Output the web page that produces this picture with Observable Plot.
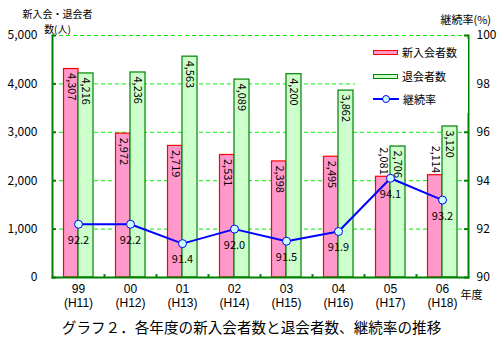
<!DOCTYPE html>
<html><head><meta charset="utf-8">
<script src="https://cdn.jsdelivr.net/npm/d3@7"></script>
<script src="https://cdn.jsdelivr.net/npm/@observablehq/plot@0.6"></script>
<style>
body{margin:0;background:#fff;font-family:"Noto Sans CJK JP",sans-serif;}
#wrap{position:relative;width:497px;height:350px;overflow:hidden;background:#fff}
#legend{position:absolute;left:355px;top:39px;width:113px;height:74px;background:#fff;font-size:11px;color:#000}
#legend .item{position:absolute;left:18px;height:14px;display:flex;align-items:center}
#legend .sw{width:25px;height:5px;box-sizing:border-box;margin-right:4px}
#legend .ln{position:relative;width:26px;height:2px;background:#0000ff;margin-right:4px}
#legend .ln span{position:absolute;left:9px;top:-3px;border:1px solid #0000ff;border-radius:50%;background:#ccffff;box-sizing:border-box;width:8px;height:8px}
</style></head>
<body><div id="wrap"></div>
<script>
const years = ["99","00","01","02","03","04","05","06"];
const eras = ["(H11)","(H12)","(H13)","(H14)","(H15)","(H16)","(H17)","(H18)"];
const newMembers = [4307,2972,2719,2531,2398,2495,2081,2114];
const leftMembers = [4216,4236,4563,4089,4200,3862,2706,3120];
const rates = [92.2,92.2,91.4,92.0,91.5,91.9,94.1,93.2];
const leftTicks = [0,1000,2000,3000,4000,5000];
const rightTicks = [90,92,94,96,98,100];
const seriesNames = ["新入会者数","退会者数","継続率"];
const leftTitle1 = "新入会・退会者", leftTitle2 = "数(人)";
const rightTitle = "継続率(%)";
const xUnit = "年度";
const caption = "グラフ２．各年度の新入会者数と退会者数、継続率の推移";

const toLeft = r => (r - 90) * 500;   // map right-axis % onto left scale
const fmt = d3.format(",");
const rows = years.map((y,i)=>({year:y, era:eras[i], nw:newMembers[i], lv:leftMembers[i], rate:rates[i]}));
// label above pink bar when the rate line would cross it
const outside = d => { const p = toLeft(d.rate); return p <= d.nw && p >= d.nw - 700; };

const GREEN = "#008000", FONT = '"Noto Sans CJK JP", sans-serif', LAT = '"Liberation Sans", sans-serif';

const chart = Plot.plot({
  width: 497, height: 350,
  marginLeft: 52, marginRight: 29, marginTop: 35, marginBottom: 73,
  style: {fontFamily: FONT, fontSize: "12px", color: "#000", background: "transparent"},
  x: {domain: years, padding: 0, label: null, axis: null},
  y: {domain: [0, 5000], label: null, axis: null},
  marks: [
    Plot.ruleY(leftTicks.slice(1), {stroke: "#00ee00", strokeDasharray: "4,3", strokeWidth: 1}),
    Plot.barY(rows, {x: "year", y: "nw", fill: "#ff99cc", stroke: "#ff0000", strokeWidth: 1.2, insetLeft: 11.5, insetRight: 26}),
    Plot.barY(rows, {x: "year", y: "lv", fill: "#ccffcc", stroke: GREEN, strokeWidth: 1.2, insetLeft: 26, insetRight: 11}),
    Plot.text(rows.filter(d => !outside(d)), {x: "year", y: "nw", text: d => fmt(d.nw), rotate: 90, textAnchor: "start", dx: -7, dy: 4, fontSize: 11}),
    Plot.text(rows.filter(d => outside(d)), {x: "year", y: "nw", text: d => fmt(d.nw), rotate: 90, textAnchor: "end", dx: -7, dy: -2, fontSize: 11}),
    Plot.text(rows, {x: "year", y: "lv", text: d => fmt(d.lv), rotate: 90, textAnchor: "start", dx: 7.5, dy: 4, fontSize: 11}),
    Plot.line(rows, {x: "year", y: d => toLeft(d.rate), stroke: "#0000ff", strokeWidth: 2}),
    Plot.dot(rows, {x: "year", y: d => toLeft(d.rate), r: 4, fill: "#ccffff", stroke: "#0000ff", strokeWidth: 1}),
    Plot.text(rows, {x: "year", y: d => toLeft(d.rate), text: d => d.rate.toFixed(1), dy: 16, fontSize: 11}),
    // axes lines
    Plot.frame({anchor: "left", stroke: GREEN, strokeWidth: 2}),
    Plot.frame({anchor: "right", stroke: GREEN, strokeWidth: 2}),
    Plot.frame({anchor: "bottom", stroke: GREEN, strokeWidth: 2}),
    Plot.tickY(leftTicks, {y: d => d, insetRight: 412, stroke: GREEN, strokeWidth: 2}),
    Plot.tickY(rightTicks, {y: d => toLeft(d), insetLeft: 412, stroke: GREEN, strokeWidth: 2}),
    Plot.ruleX(years.slice(1), {x: d => d, dx: -26, y1: 0, y2: 60, stroke: GREEN, strokeWidth: 2}),
    Plot.axisY(leftTicks, {anchor: "left", tickSize: 0, tickPadding: 15, tickFormat: fmt, fontSize: 12, label: null}),
    Plot.axisY(rightTicks.map(toLeft), {anchor: "right", tickSize: 0, tickPadding: 8, tickFormat: d => d / 500 + 90, fontSize: 12, label: null}),
    Plot.text(rows, {x: "year", frameAnchor: "bottom", text: "year", dy: 15.5, fontSize: 12, fontFamily: LAT}),
    Plot.text(rows, {x: "year", frameAnchor: "bottom", text: "era", dy: 29.5, fontSize: 12, fontFamily: LAT}),
    // titles
    Plot.text([leftTitle1], {frameAnchor: "top-left", text: d => d, textAnchor: "middle", dx: 5, dy: -24.5, fontSize: 10}),
    Plot.text([leftTitle2], {frameAnchor: "top-left", text: d => d, textAnchor: "middle", dx: 5, dy: -9.5, fontSize: 10}),
    Plot.text([rightTitle], {frameAnchor: "top-right", text: d => d, textAnchor: "start", dx: -28, dy: -19, fontSize: 11}),
    Plot.text([xUnit], {frameAnchor: "bottom-right", text: d => d, textAnchor: "start", dx: -8, dy: 21, fontSize: 11}),
    Plot.text([caption], {frameAnchor: "bottom", text: d => d, textAnchor: "middle", dx: -9, dy: 55, fontSize: 14.6})
  ]
});
const wrap = document.getElementById("wrap");
wrap.appendChild(chart);
const lg = document.createElement("div");
lg.id = "legend";
lg.innerHTML =
  `<div class="item" style="top:6px"><div class="sw" style="background:#ff99cc;border:1px solid #ff0000"></div><span>${seriesNames[0]}</span></div>` +
  `<div class="item" style="top:30px"><div class="sw" style="background:#ccffcc;border:1px solid #008000"></div><span>${seriesNames[1]}</span></div>` +
  `<div class="item" style="top:53px"><div class="ln"><span></span></div><span>${seriesNames[2]}</span></div>`;
wrap.appendChild(lg);
</script>
</body></html>
